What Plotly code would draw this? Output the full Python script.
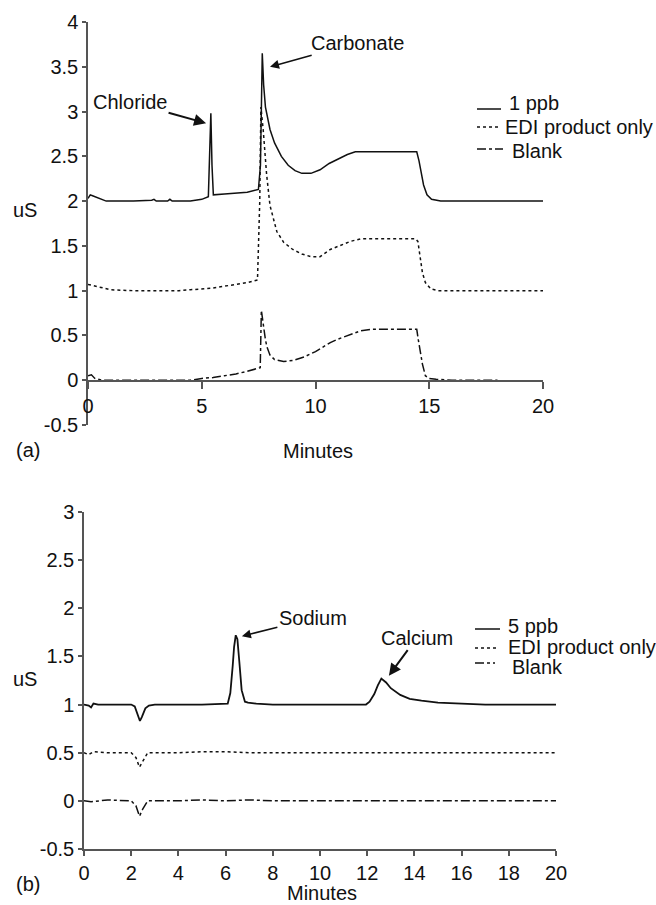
import plotly.graph_objects as go

# ---------------- Panel (a) data ----------------
a_ppb_x = [0, 0.1, 0.2, 0.3, 0.5, 0.8, 1.0, 2.0, 2.8, 2.9, 3.0, 3.5, 3.6, 3.7, 4.5, 5.0, 5.29, 5.35, 5.4, 5.45, 5.51, 6.0,
           7.0, 7.49, 7.58, 7.66, 7.72, 7.8, 7.9, 8.0, 8.2, 8.5, 8.8, 9.1, 9.4, 9.8, 10.2, 10.6, 11.0, 11.4, 11.75, 12.0,
           13.0, 14.0, 14.45, 14.55, 14.65, 14.75, 14.9, 15.1, 15.5, 16, 17, 18, 19, 20]
a_ppb_y = [2.03, 2.07, 2.06, 2.05, 2.03, 2.0, 2.0, 2.0, 2.01, 2.02, 2.0, 2.0, 2.02, 2.0, 2.0, 2.02, 2.05, 2.5, 2.98, 2.4, 2.07, 2.08,
           2.1, 2.13, 2.4, 3.65, 3.3, 3.05, 2.9, 2.8, 2.65, 2.5, 2.4, 2.34, 2.31, 2.31, 2.35, 2.42, 2.47, 2.52, 2.55, 2.55,
           2.55, 2.55, 2.55, 2.45, 2.3, 2.18, 2.07, 2.02, 2.0, 2.0, 2.0, 2.0, 2.0, 2.0]

a_edi_x = [0, 0.3, 0.6, 1.0, 2, 3, 4, 4.5, 5, 5.5, 6, 6.5, 7, 7.45, 7.55, 7.6, 7.7, 7.85, 8.0, 8.3, 8.6, 9.0, 9.4, 9.8,
           10.2, 10.65, 11.1, 11.53, 12.0, 13.0, 14.4, 14.5, 14.58, 14.7, 14.83, 15.07, 15.4, 16, 17, 18, 19, 20]
a_edi_y = [1.07, 1.05, 1.03, 1.01, 1.0, 1.0, 1.0, 1.01, 1.02, 1.03, 1.05, 1.07, 1.09, 1.12, 2.0, 3.05, 2.8, 2.3, 1.95, 1.66, 1.54, 1.46, 1.41, 1.38,
           1.38, 1.46, 1.51, 1.55, 1.58, 1.58, 1.58, 1.55, 1.42, 1.2, 1.09, 1.02, 1.0, 1.0, 1.0, 1.0, 1.0, 1.0]

a_blank_x = [0, 0.15, 0.3, 0.6, 1, 2, 3, 4, 4.5, 5, 5.5, 6, 6.5, 7, 7.5, 7.57, 7.62, 7.7, 7.8, 7.87, 8.0, 8.2, 8.6, 9.0, 9.5,
             10.0, 10.65, 11.0, 11.5, 11.97, 12.5, 13.5, 14.45, 14.52, 14.6, 14.7, 14.83, 15.0, 15.3, 16, 17, 18]
a_blank_y = [0.05, 0.06, 0.02, 0.0, 0.0, 0.0, 0.0, 0.0, 0.0, 0.02, 0.03, 0.05, 0.07, 0.1, 0.13, 0.14, 0.78, 0.62, 0.45, 0.37, 0.28, 0.23, 0.21, 0.22, 0.26,
             0.32, 0.42, 0.46, 0.51, 0.55, 0.57, 0.57, 0.57, 0.45, 0.31, 0.18, 0.05, 0.02, 0.01, 0.0, 0.0, 0.0]

# ---------------- Panel (b) data ----------------
b_ppb_x = [0, 0.2, 0.3, 0.4, 0.6, 1, 2, 2.15, 2.25, 2.37, 2.45, 2.6, 2.75, 3, 4, 5, 6.09, 6.2, 6.3, 6.36, 6.43, 6.5, 6.58,
           6.68, 6.82, 6.95, 7.3, 8, 9, 10, 11, 11.95, 12.1, 12.3, 12.45, 12.6, 12.8, 13.0, 13.4, 13.8, 14.3, 15, 16, 17, 18, 19, 20]
b_ppb_y = [1.0, 0.99, 0.97, 1.01, 1.0, 1.0, 1.0, 0.98, 0.9, 0.83, 0.87, 0.96, 0.99, 1.0, 1.0, 1.0, 1.01, 1.12, 1.4, 1.6, 1.72, 1.68, 1.45,
           1.15, 1.03, 1.02, 1.01, 1.0, 1.0, 1.0, 1.0, 1.0, 1.03, 1.11, 1.2, 1.27, 1.23, 1.17, 1.10, 1.06, 1.04, 1.02, 1.01, 1.0, 1.0, 1.0, 1.0]

b_edi_x = [0, 0.2, 0.4, 1, 2, 2.2, 2.35, 2.5, 2.7, 3, 4, 5, 6, 7, 8, 10, 12, 14, 16, 18, 20]
b_edi_y = [0.5, 0.48, 0.51, 0.5, 0.5, 0.45, 0.35, 0.42, 0.5, 0.5, 0.5, 0.51, 0.51, 0.5, 0.5, 0.5, 0.5, 0.5, 0.5, 0.5, 0.5]

b_blank_x = [0, 0.3, 1, 2, 2.2, 2.35, 2.5, 2.7, 3, 4, 5, 6, 7, 8, 10, 12, 14, 16, 18, 20]
b_blank_y = [0.0, -0.01, 0.01, 0.0, -0.05, -0.16, -0.08, 0.0, 0.0, 0.0, 0.01, 0.0, 0.01, 0.0, 0.0, 0.0, 0.0, 0.0, 0.0, 0.0]

a_yticks = [-0.5, 0, 0.5, 1, 1.5, 2, 2.5, 3, 3.5, 4]
a_yticktext = ["-0.5", "0", "0.5", "1", "1.5", "2", "2.5", "3", "3.5", "4"]
a_xticks = [0, 5, 10, 15, 20]
b_yticks = [-0.5, 0, 0.5, 1, 1.5, 2, 2.5, 3]
b_yticktext = ["-0.5", "0", "0.5", "1", "1.5", "2", "2.5", "3"]
b_xticks = [0, 2, 4, 6, 8, 10, 12, 14, 16, 18, 20]

a_names = ["1 ppb", "EDI product only", "Blank"]
b_names = ["5 ppb", "EDI product only", "Blank"]
dashes = ["solid", "dot", "dashdot"]

FONT = "Liberation Sans, Arial, sans-serif"
FS = 20
W, H = 656, 905
LC = "#111111"
AXC = "#555555"

def px(xp):
    return xp / W

def py(yp):
    return 1 - yp / H

fig = go.Figure()

a_series = [(a_ppb_x, a_ppb_y), (a_edi_x, a_edi_y), (a_blank_x, a_blank_y)]
b_series = [(b_ppb_x, b_ppb_y), (b_edi_x, b_edi_y), (b_blank_x, b_blank_y)]
for (xs, ys), nm, d in zip(a_series, a_names, dashes):
    fig.add_trace(go.Scatter(x=xs, y=ys, mode="lines", name=nm, showlegend=False,
                             line=dict(color=LC, width=1.5, dash=d), xaxis="x", yaxis="y"))
for (xs, ys), nm, d in zip(b_series, b_names, dashes):
    fig.add_trace(go.Scatter(x=xs, y=ys, mode="lines", name=nm, showlegend=False,
                             line=dict(color=LC, width=1.8 if d == "solid" else 1.5, dash=d),
                             xaxis="x2", yaxis="y2"))

axis_common = dict(showgrid=False, zeroline=False, showline=True, linecolor=AXC, linewidth=1.5,
                   ticks="outside", tickcolor=AXC, tickwidth=1.5,
                   tickfont=dict(family=FONT, size=FS, color="#111"))

fig.update_layout(
    width=W, height=H,
    margin=dict(l=0, r=0, t=0, b=0, autoexpand=False),
    paper_bgcolor="white", plot_bgcolor="white",
    font=dict(family=FONT, size=FS, color="#111"),
    xaxis=dict(domain=[px(88), px(543)], range=[0, 20], tickvals=a_xticks, anchor="free",
               position=py(381), ticklen=7, **axis_common),
    yaxis=dict(domain=[py(425), py(22)], range=[-0.5, 4], tickvals=a_yticks, ticktext=a_yticktext,
               anchor="x", ticklen=4, **axis_common),
    xaxis2=dict(domain=[px(84), px(556)], range=[0, 20], tickvals=b_xticks, anchor="y2", ticklen=5,
                **axis_common),
    yaxis2=dict(domain=[py(849), py(512)], range=[-0.5, 3], tickvals=b_yticks,
                ticktext=b_yticktext, anchor="x2", ticklen=4, **axis_common),
    showlegend=False,
)

ann_font = dict(family=FONT, size=FS, color="#111")

def label(xp, yp, text, xanchor="center"):
    return dict(x=px(xp), y=py(yp), xref="paper", yref="paper", text=text, showarrow=False,
                xanchor=xanchor, yanchor="middle", font=ann_font)

annotations = [
    # Labels with arrows (panel a)
    dict(x=5.19, y=2.87, xref="x", yref="y", text="Chloride", showarrow=True, ax=-76, ay=-21,
         arrowhead=2, arrowsize=1.2, arrowwidth=2, arrowcolor="#111", font=ann_font),
    dict(x=8.0, y=3.5, xref="x", yref="y", text="Carbonate", showarrow=True, ax=87, ay=-24,
         arrowhead=2, arrowsize=1.2, arrowwidth=1.5, arrowcolor="#111", font=ann_font),
    # panel b
    dict(x=6.69, y=1.71, xref="x2", yref="y2", text="Sodium", showarrow=True, ax=71, ay=-18,
         arrowhead=2, arrowsize=1.2, arrowwidth=1.5, arrowcolor="#111", font=ann_font),
    dict(x=12.92, y=1.30, xref="x2", yref="y2", text="Calcium", showarrow=True, ax=28, ay=-38,
         arrowhead=2, arrowsize=1.2, arrowwidth=2, arrowcolor="#111", font=ann_font),
    # axis titles and panel labels
    label(25, 210, "uS"),
    label(318, 451, "Minutes"),
    label(28, 450, "(a)"),
    label(25, 679, "uS"),
    label(322, 893, "Minutes"),
    label(28, 884, "(b)"),
]

# hand-drawn legends (legend keys as decoration in paper coordinates)
a_leg_text = [(507, 103), (503, 127), (510, 151)]
a_leg_line = [(477, 501, 109), (477, 500, 127), (477, 503, 149)]
b_leg_text = [(506, 626), (506, 647), (510, 667)]
b_leg_line = [(475, 500, 629), (475, 497, 648), (475, 495, 663)]

shapes = []
for names, ltext, lline in [(a_names, a_leg_text, a_leg_line), (b_names, b_leg_text, b_leg_line)]:
    for nm, (tx, ty), (x0, x1, ly), d in zip(names, ltext, lline, dashes):
        annotations.append(label(tx, ty, nm, xanchor="left"))
        shapes.append(dict(type="line", xref="paper", yref="paper", x0=px(x0), x1=px(x1),
                           y0=py(ly), y1=py(ly), line=dict(color=LC, width=1.5, dash=d)))

fig.update_layout(annotations=annotations, shapes=shapes)

fig.write_html("out.html", config={"displayModeBar": False},
               post_script="document.body.style.margin='0';document.body.style.overflow='hidden';")
